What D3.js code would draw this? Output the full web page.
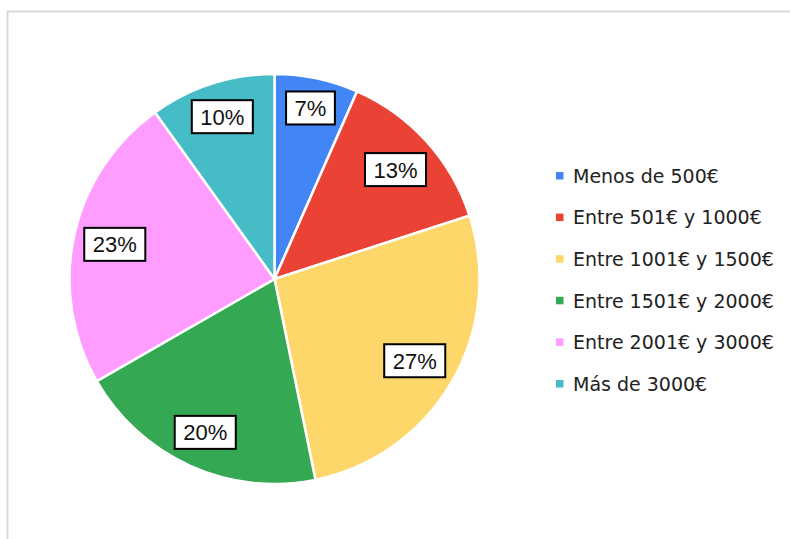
<!DOCTYPE html>
<html>
<head>
<meta charset="utf-8">
<script src="https://cdn.jsdelivr.net/npm/d3@7"></script>
<style>
  body { margin: 0; background: #fff; }
</style>
</head>
<body>
<div id="chart"></div>
<script>
const categories = ["Menos de 500€", "Entre 501€ y 1000€", "Entre 1001€ y 1500€", "Entre 1501€ y 2000€", "Entre 2001€ y 3000€", "Más de 3000€"];
const values = [6.6, 13.4, 26.8, 19.9, 23.4, 9.9];
const colors = ["#4285f4", "#ea4335", "#fed76b", "#34a853", "#ff9cff", "#46bdc6"];

const width = 790, height = 539;
const cx = 274.5, cy = 279, radius = 205;
const labelReach = 197; // far corner of each label box sits on this radius

const svg = d3.select("#chart").append("svg")
  .attr("width", width)
  .attr("height", height);

svg.append("rect")
  .attr("x", 7.5).attr("y", 11.5)
  .attr("width", 800).attr("height", 600)
  .attr("fill", "none")
  .attr("stroke", "#d9d9d9")
  .attr("stroke-width", 2);

const data = categories.map((c, i) => ({ name: c, value: values[i], color: colors[i] }));
const total = d3.sum(values);

const pie = d3.pie().value(d => d.value).sort(null);
const arc = d3.arc().innerRadius(0).outerRadius(radius);

const g = svg.append("g").attr("transform", `translate(${cx},${cy})`);
const arcs = pie(data);

g.selectAll("path.slice")
  .data(arcs).enter()
  .append("path")
  .classed("slice", true)
  .attr("d", arc)
  .attr("fill", d => d.data.color)
  .attr("stroke", "#fff")
  .attr("stroke-width", 2.5);

const labels = g.selectAll("g.label")
  .data(arcs).enter()
  .append("g")
  .classed("label", true);

labels.append("text")
  .attr("text-anchor", "middle")
  .attr("dy", "0.36em")
  .style("font", "22px 'Liberation Sans', Arial, sans-serif")
  .attr("fill", "#111")
  .text(d => Math.round(d.data.value / total * 100) + "%");

labels.each(function (d) {
  const grp = d3.select(this);
  const bb = grp.select("text").node().getBBox();
  const w = bb.width / 2 + 8.5, h = 16.5;
  grp.insert("rect", "text")
    .attr("x", -w).attr("y", -h)
    .attr("width", 2 * w).attr("height", 2 * h)
    .attr("fill", "#fff")
    .attr("stroke", "#000")
    .attr("stroke-width", 2);

  const a = (d.startAngle + d.endAngle) / 2;
  const ux = Math.sin(a), uy = -Math.cos(a);
  const b = w * Math.abs(ux) + h * Math.abs(uy);
  const c = w * w + h * h - labelReach * labelReach;
  const t = -b + Math.sqrt(b * b - c);
  grp.attr("transform", `translate(${t * ux},${t * uy})`);
});

const legendY = d3.scalePoint()
  .domain(categories)
  .range([176, 384]);

const legend = svg.selectAll("g.legend-item")
  .data(data).enter()
  .append("g")
  .classed("legend-item", true)
  .attr("transform", d => `translate(556,${legendY(d.name)})`);

legend.append("rect")
  .attr("x", 0).attr("y", -4)
  .attr("width", 7.5).attr("height", 7.5)
  .attr("fill", d => d.color);

legend.append("text")
  .attr("x", 17)
  .attr("dy", "0.36em")
  .style("font", "19px 'DejaVu Sans', Verdana, sans-serif")
  .attr("fill", "#222")
  .text(d => d.name);
</script>
</body>
</html>
